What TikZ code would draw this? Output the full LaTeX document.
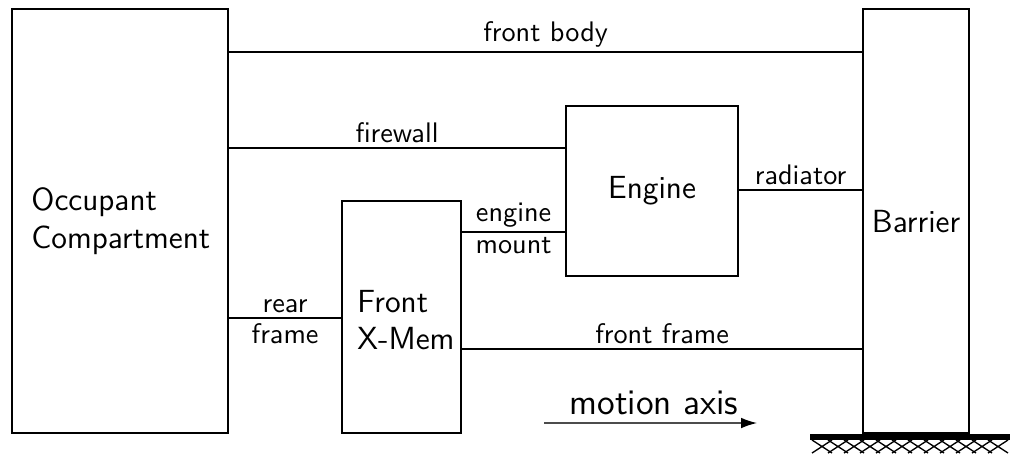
\documentclass[tikz,border=0pt]{standalone}
\usetikzlibrary{arrows.meta}
\tikzset{
  part/.style={draw, line width=0.8pt, inner sep=0pt, anchor=north west},
  lbl/.style={font=\sffamily\large, align=left},
  link/.style={line width=0.8pt},
  tag/.style={font=\sffamily\fontsize{10.6}{12.7}\selectfont, inner sep=1.5pt}
}
\begin{document}
\begin{tikzpicture}[x=0.375pt, y=-0.375pt]
  \useasboundingbox (0,0) rectangle (1010,455);

  % blocks
  \node[part, minimum width=216*0.375pt, minimum height=424*0.375pt] (occ) at (11,8) {};
  \node[part, minimum width=172*0.375pt, minimum height=170*0.375pt] (eng) at (565,105) {};
  \node[part, minimum width=119*0.375pt, minimum height=232*0.375pt] (xmem) at (341,200) {};
  \node[part, minimum width=106*0.375pt, minimum height=424*0.375pt] (bar) at (862,8) {};

  \node[lbl, anchor=west] (occtxt) at (22,221) {Occupant\\Compartment};
  \node[lbl] (engtxt) at (eng.center) {Engine};
  \node[lbl, anchor=west] (xmemtxt) at (348,320) {Front\\X-Mem};
  \node[lbl] (bartxt) at (bar.center) {Barrier};

  % connections
  \draw[link] (occ.east |- 0,52) -- (bar.west |- 0,52)
      node[tag, midway, above] {front body};
  \draw[link] (occ.east |- 0,148) -- (eng.west |- 0,148)
      node[tag, midway, above] {firewall};
  \draw[link] (eng.east |- 0,190) -- (bar.west |- 0,190)
      node[tag, midway, above] {radiator};
  \draw[link] (xmem.east |- 0,232) -- (eng.west |- 0,232)
      node[tag, midway, above] {engine}
      node[tag, midway, below] {mount};
  \draw[link] (occ.east |- 0,318) -- (xmem.west |- 0,318)
      node[tag, midway, above] {rear}
      node[tag, midway, below] {frame};
  \draw[link] (xmem.east |- 0,349) -- (bar.west |- 0,349)
      node[tag, midway, above] {front frame};

  % motion axis
  \coordinate (m0) at (544,423);
  \coordinate (m1) at (757,423);
  \draw[line width=0.5pt, black!70, -{Latex[black, length=6pt, width=4pt]}] (m0) -- (m1);
  \node[font=\sffamily\fontsize{13.5}{16}\selectfont] (mtxt) at (654,403) {motion axis};

  % ground
  \draw[line width=2pt] (810,437) -- (1010,437);
  \foreach \i in {0,...,11}
    \draw[line width=0.5pt] (812+\i*16,453) -- ++(20,-13)
                            (812+\i*16,440) -- ++(20,13);
\end{tikzpicture}
\end{document}
